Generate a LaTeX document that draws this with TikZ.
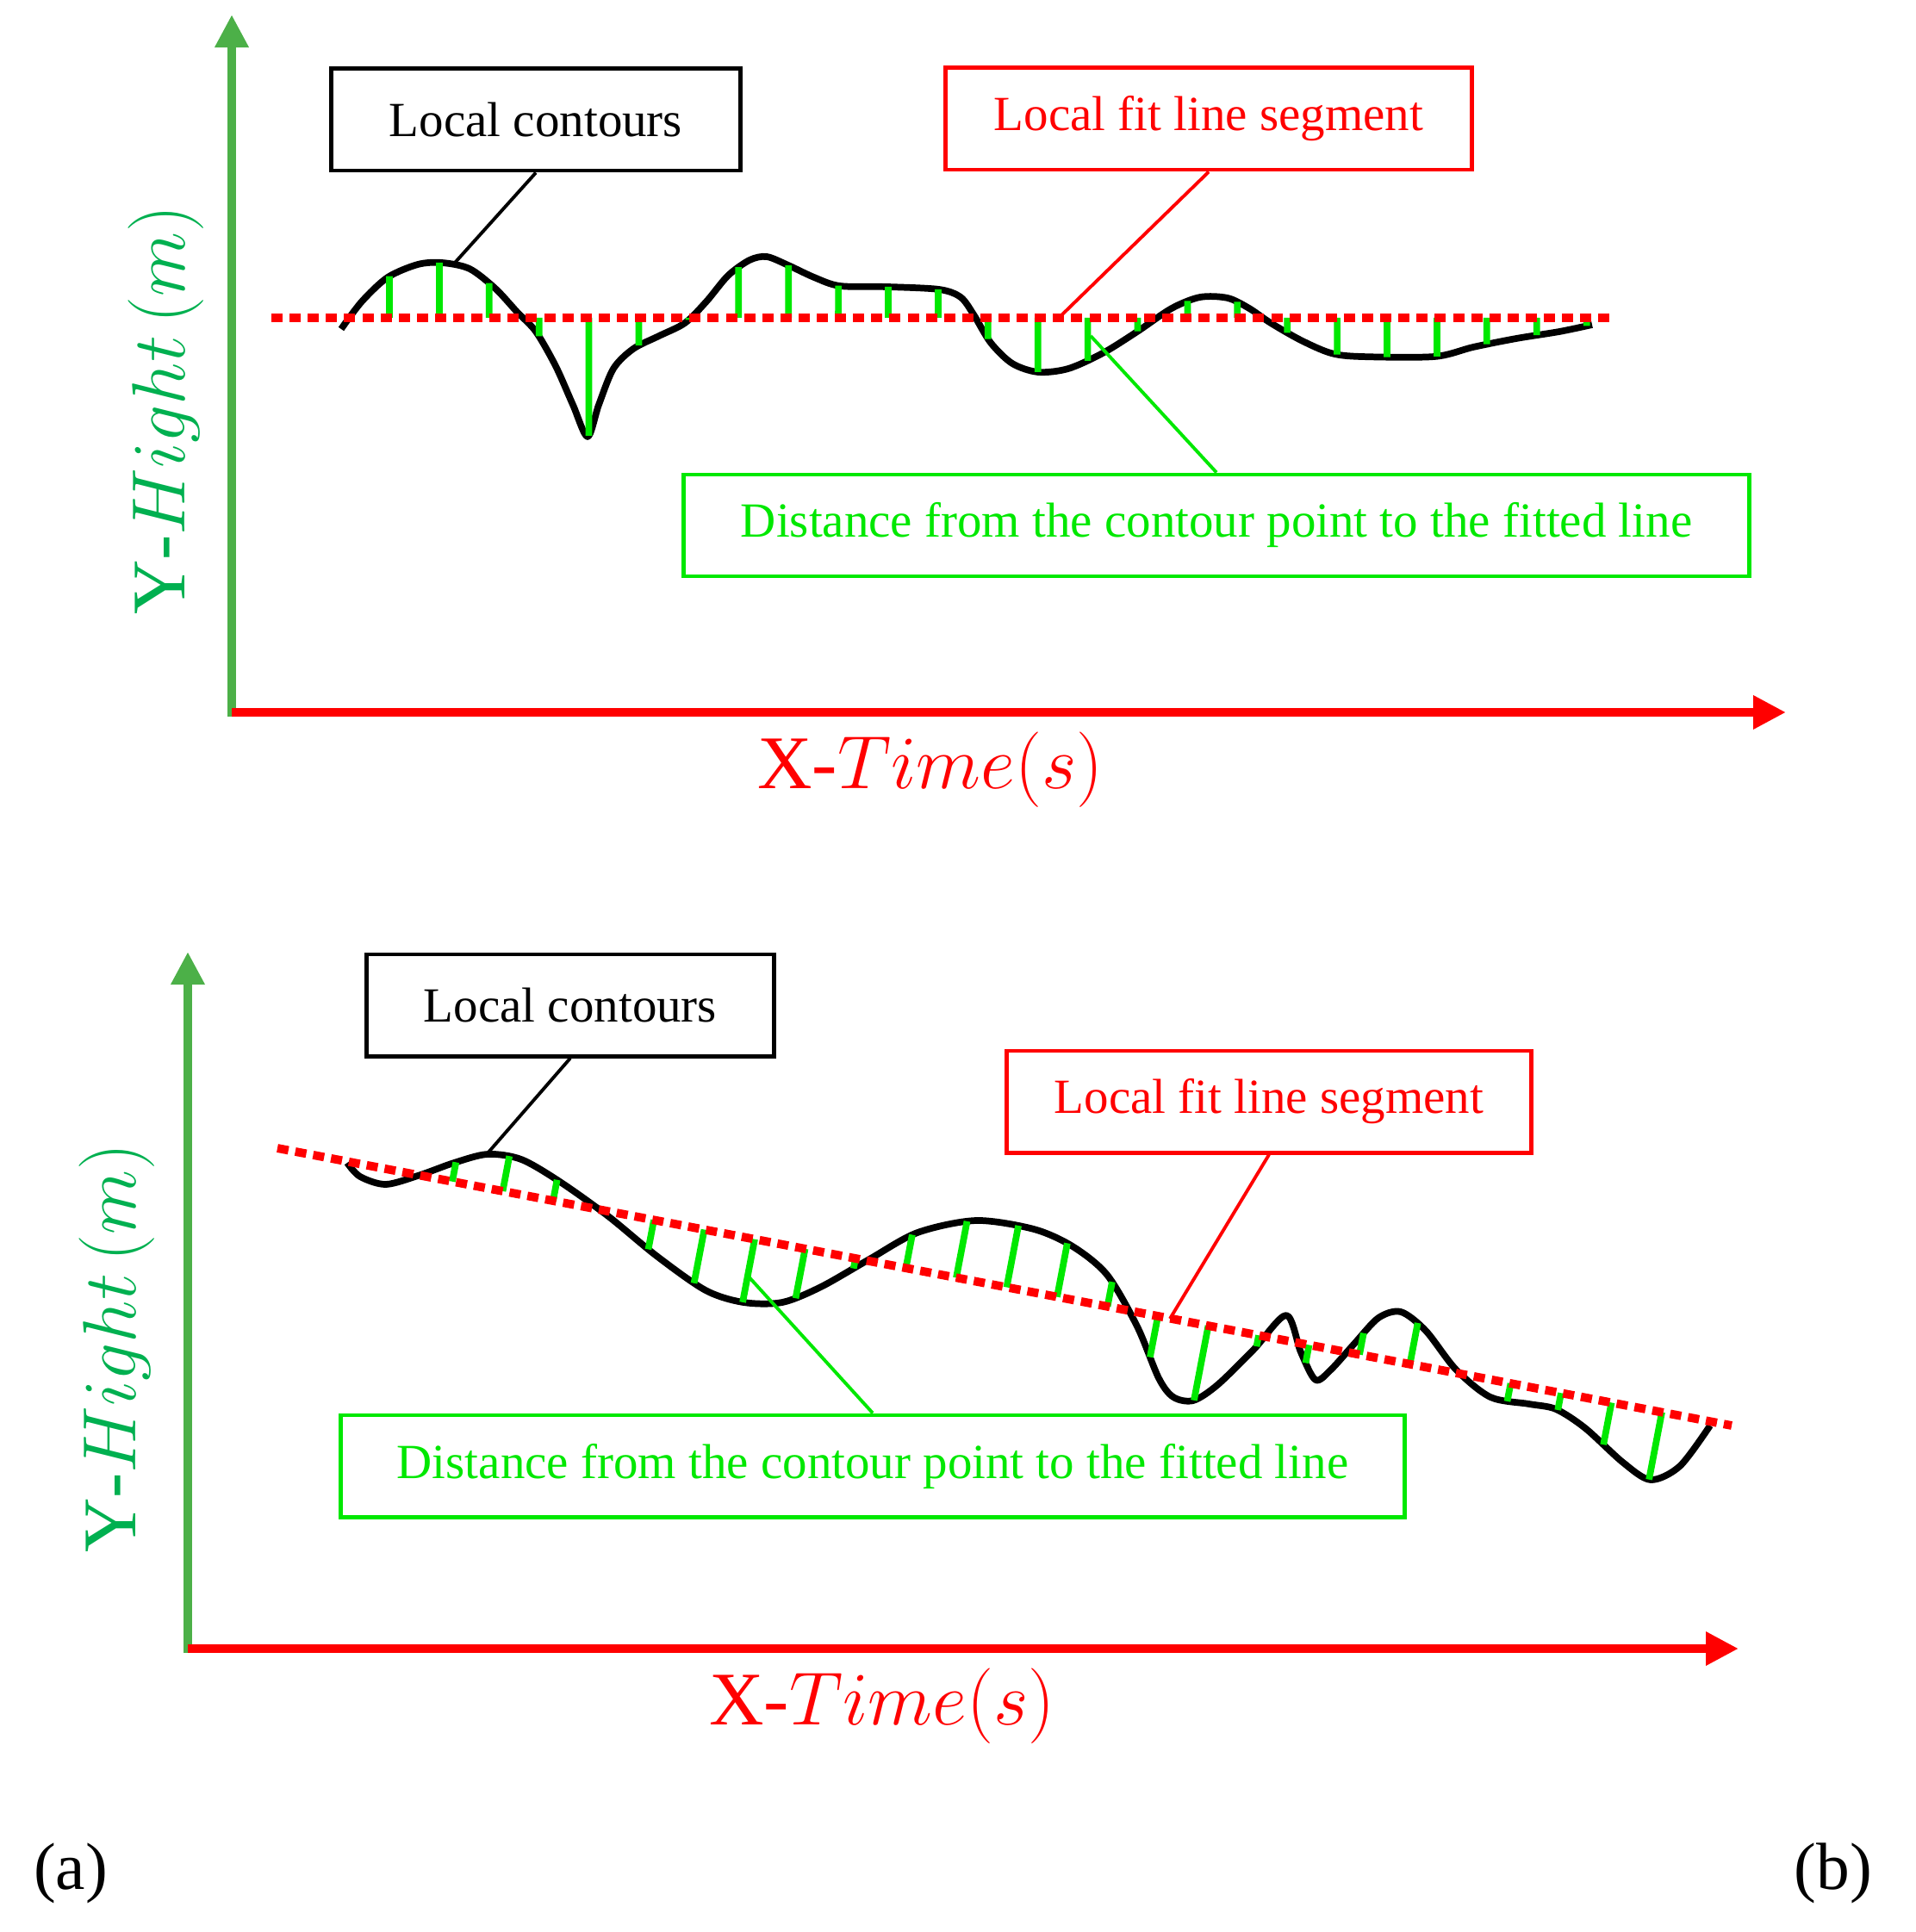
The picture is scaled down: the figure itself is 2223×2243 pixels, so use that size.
\documentclass[tikz,border=0pt]{standalone}
\usepackage{fontspec}
\setmainfont{Liberation Serif}
\usepackage{tikz}
\usetikzlibrary{arrows.meta,intersections}
\definecolor{axisgreen}{RGB}{76,176,72}
\definecolor{labelgreen}{RGB}{0,176,80}
\definecolor{distgreen}{RGB}{0,232,0}
\tikzstyle{contour}=[line width=2.2pt,line join=round]
\tikzstyle{fitline}=[red,line width=2.8pt,dash pattern=on 3.7pt off 2.3pt]
\tikzstyle{distline}=[distgreen,line width=2.2pt]
\tikzstyle{tagbox}=[draw,line width=1.4pt,minimum height=1.18cm,font=\fontsize{16.2}{20}\selectfont]
\tikzstyle{lead}=[line width=1.1pt]
\tikzstyle{yaxis}=[axisgreen,line width=3pt,-{Triangle[width=0.37cm,length=0.38cm]}]
\tikzstyle{xaxis}=[red,line width=3pt,-{Triangle[width=0.37cm,length=0.38cm]}]
\tikzstyle{ylabel}=[labelgreen,rotate=90,font=\fontsize{25}{30}\selectfont]
\tikzstyle{xlabel}=[red,font=\fontsize{25}{30}\selectfont]

\begin{document}
\begin{tikzpicture}[x=0.01cm,y=-0.01cm]
\useasboundingbox (0,0) rectangle (2223,2243);

% (a) horizontal fit line
\draw[yaxis] (269,832) -- (269,17);
\draw[xaxis] (269,827) -- (2073,827);
\node[ylabel] (ya) at (193,476) {$\mathrm{Y}$-$Hight\,(m)$};
\node[xlabel] (xa) at (1080,894) {$\mathrm{X}$-$Time(s)$};
\draw[contour,name path=contourA] plot[smooth,tension=0.5] coordinates {
  (396,382) (420,350) (450,322) (485,307) (513,305) (545,312) (575,335)
  (600,362) (622,385) (645,425) (665,470) (682,507) (695,470) (712,428)
  (735,405) (765,390) (795,375) (820,350) (845,320) (870,302) (890,298)
  (915,308) (945,322) (975,332) (1030,333) (1090,336) (1115,345) (1130,365)
  (1150,398) (1175,422) (1205,432) (1240,428) (1280,410) (1320,385)
  (1360,358) (1393,345) (1425,346) (1450,358) (1475,375) (1510,395)
  (1545,410) (1580,414) (1665,414) (1710,403) (1760,393) (1810,385) (1848,377)};
\foreach \k in {0,...,24}{
  \pgfmathsetmacro{\xx}{452+57.9*\k}
  \path[name path=probe] (\xx,209) -- (\xx,529);
  \draw[distline,name intersections={of=contourA and probe,by=hit}] (\xx,369) -- (hit);
}
\draw[fitline] (315,369) -- (1874,369);
\node[tagbox,minimum width=4.75cm] (lca) at (622,139) {Local contours};
\node[tagbox,red,minimum width=6.1cm] (fita) at (1403,138) {Local fit line segment};
\node[tagbox,distgreen,minimum width=12.36cm] (dista) at (1412,610) {Distance from the contour point to the fitted line};
\coordinate (peaka) at (528,305);
\coordinate (onfita) at (1229,369);
\coordinate (ongapa) at (1266,390);
\draw[lead] (lca.south) -- (peaka);
\draw[lead,red] (fita.south) -- (onfita);
\draw[lead,distgreen] (dista.north) -- (ongapa);

% (b) sloping fit line
\draw[yaxis] (218,1919) -- (218,1105);
\draw[xaxis] (218,1914) -- (2018,1914);
\node[ylabel] (yb) at (136,1565) {$\mathrm{Y}$-$Hight\,(m)$};
\node[xlabel] (xb) at (1024,1981) {$\mathrm{X}$-$Time(s)$};
\draw[contour,name path=contourB] plot[smooth,tension=0.5] coordinates {
  (403,1350) (418,1366) (448,1375) (488,1364) (527,1350) (566,1340)
  (605,1346) (650,1372) (706,1412) (762,1458) (819,1498) (863,1512)
  (908,1512) (953,1494) (1009,1462) (1065,1431) (1133,1417) (1200,1427)
  (1245,1447) (1285,1480) (1320,1540) (1345,1600) (1362,1622) (1385,1626)
  (1413,1608) (1455,1567) (1493,1527) (1510,1570) (1527,1602) (1545,1590)
  (1572,1560) (1600,1530) (1626,1523) (1655,1545) (1690,1590) (1730,1622)
  (1775,1630) (1806,1636) (1840,1658) (1884,1698) (1916,1718) (1950,1702) (1985,1655)};
\foreach \k in {0,...,24}{
  \pgfmathsetmacro{\xx}{525+58.5*\k}
  \pgfmathsetmacro{\yy}{1333+(\xx-322)*0.19076}
  \path[name path=probe] (\xx,\yy) ++(28.1,-147.3) -- ++(-56.2,294.6);
  \draw[distline,name intersections={of=contourB and probe,by=hit}] (\xx,\yy) -- (hit);
}
\draw[fitline] (322,1333) -- (2010,1655);
\node[tagbox,minimum width=4.72cm] (lcb) at (662,1167) {Local contours};
\node[tagbox,red,minimum width=6.08cm] (fitb) at (1473,1279) {Local fit line segment};
\node[tagbox,distgreen,minimum width=12.35cm] (distb) at (1013,1702) {Distance from the contour point to the fitted line};
\coordinate (peakb) at (565,1340);
\coordinate (onfitb) at (1358,1531);
\coordinate (ongapb) at (867,1480);
\draw[lead] (lcb.south) -- (peakb);
\draw[lead,red] (fitb.south) -- (onfitb);
\draw[lead,distgreen] (distb.north) -- (ongapb);

\node[font=\fontsize{22}{26}\selectfont] (tagA) at (82,2175) {(a)};
\node[font=\fontsize{22}{26}\selectfont] (tagB) at (2128,2175) {(b)};
\end{tikzpicture}
\end{document}
